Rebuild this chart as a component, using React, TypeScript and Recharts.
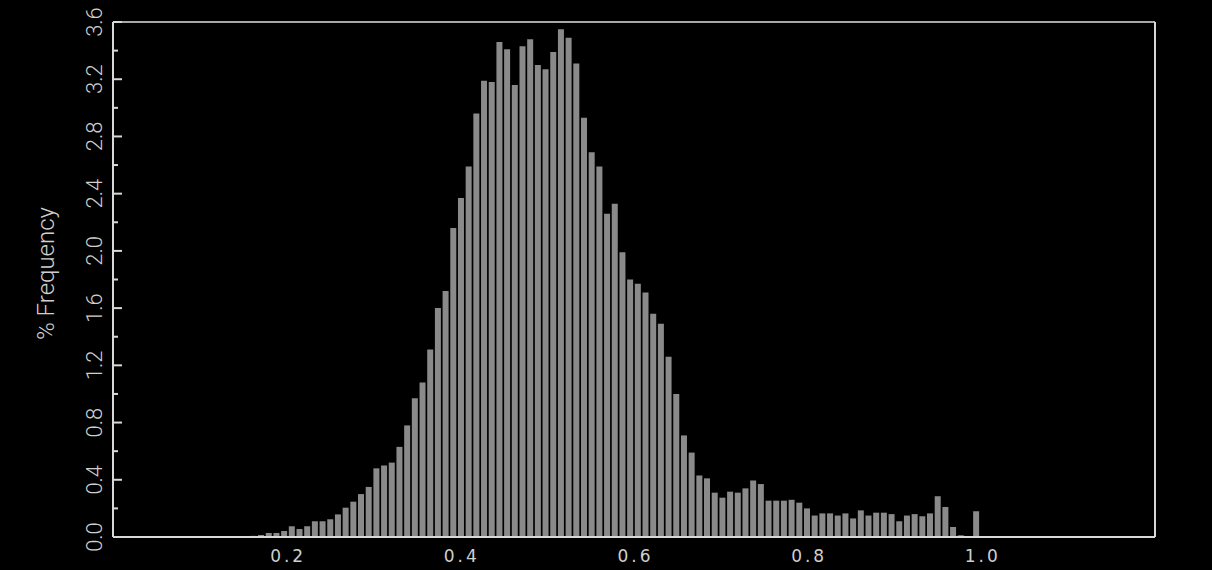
import React from 'react';
import { ComposedChart, Bar, XAxis, YAxis } from 'recharts';

// Histogram bins: centre of first bin and bin width (x units)
const BIN_START = 0.1172;
const BIN_WIDTH = 0.008855;

// % frequency per bin (left to right)
const freqLeftTail = [0.005, 0.005, 0.005, 0.005, 0.006];
const freqRise = [
  0.008, 0.014, 0.028, 0.028, 0.042, 0.075, 0.056, 0.075, 0.11, 0.11, 0.124, 0.158,
  0.205, 0.247, 0.3, 0.35,
];
const freqPeak = [
  0.48, 0.5, 0.52, 0.63, 0.78, 0.97, 1.08, 1.31, 1.6, 1.72, 2.16, 2.37, 2.59, 2.96,
  3.19, 3.18, 3.46, 3.41, 3.16, 3.43, 3.48, 3.3, 3.27, 3.39, 3.55, 3.49,
];
const freqFall = [
  3.31, 2.93, 2.69, 2.59, 2.26, 2.33, 1.99, 1.8, 1.77, 1.71, 1.56, 1.49, 1.26, 1.0,
  0.71, 0.59, 0.43, 0.41, 0.31, 0.275, 0.317, 0.31, 0.34, 0.395, 0.37,
];
const freqRightTail = [
  0.254, 0.254, 0.254, 0.26, 0.24, 0.2, 0.15, 0.165, 0.165, 0.15, 0.165, 0.13, 0.186,
  0.15, 0.17, 0.17, 0.16, 0.11, 0.15, 0.16, 0.145, 0.165, 0.285, 0.21, 0.07, 0.012,
  0.005, 0.18,
];

const xTicks = [0.2, 0.4, 0.6, 0.8, 1.0];
const yTicks = [0, 0.2, 0.4, 0.6, 0.8, 1.0, 1.2, 1.4, 1.6, 1.8, 2.0, 2.2, 2.4, 2.6, 2.8, 3.0, 3.2, 3.4, 3.6];
const yLabelTicks = [0, 0.4, 0.8, 1.2, 1.6, 2.0, 2.4, 2.8, 3.2, 3.6];

const freqAll = [...freqLeftTail, ...freqRise, ...freqPeak, ...freqFall, ...freqRightTail];
const data = freqAll.map((f, i) => ({ x: BIN_START + i * BIN_WIDTH, freq: f }));

const AXIS = '#d8d8d8';
const TEXT = '#cfcfcf';

const isMajor = (v: number) => yLabelTicks.some((t) => Math.abs(t - v) < 1e-6);

const LeftTick = (props: any) => {
  const { x, y, payload } = props;
  const v = payload.value as number;
  const major = isMajor(v);
  const bx = x - 11;
  return (
    <g>
      <line x1={x} x2={x + (major ? 9 : 5)} y1={y} y2={y} stroke={AXIS} strokeWidth={2} />
      {major && (
        <text
          x={bx}
          y={y}
          transform={`rotate(-90 ${bx} ${y})`}
          textAnchor="middle"
          fill={TEXT}
          fontFamily="Roboto, 'DejaVu Sans', sans-serif"
          fontWeight={300}
          fontSize={22}
        >
          {v.toFixed(1)}
        </text>
      )}
    </g>
  );
};

const RightTick = (props: any) => {
  const { x, y, payload } = props;
  const major = isMajor(payload.value as number);
  return <line x1={x} x2={x - (major ? 9 : 5)} y1={y} y2={y} stroke={AXIS} strokeWidth={2} />;
};

const BottomTick = (props: any) => {
  const { x, y, payload } = props;
  return (
    <text
      x={x + 1.5}
      y={y + 25}
      textAnchor="middle"
      fill={TEXT}
      fontFamily="'DejaVu Sans', sans-serif"
      fontSize={17}
      letterSpacing={3}
    >
      {(payload.value as number).toFixed(1)}
    </text>
  );
};

const YTitle = (props: any) => {
  const vb = props.viewBox || {};
  const cx = vb.x + 1;
  const cy = vb.y + vb.height / 2 - 6;
  return (
    <text
      x={cx}
      y={cy}
      transform={`rotate(-90 ${cx} ${cy})`}
      textAnchor="middle"
      fill={TEXT}
      fontFamily="Roboto, 'DejaVu Sans', sans-serif"
      fontWeight={300}
      fontSize={24}
    >
      % Frequency
    </text>
  );
};

export default function App() {
  return (
    <div style={{ position: 'absolute', left: 0, top: 0, width: 1212, height: 570, background: '#000' }}>
      <ComposedChart
        width={1212}
        height={570}
        data={data}
        margin={{ top: 21, right: 56, bottom: 3, left: 53 }}
      >
        <XAxis
          xAxisId="bottom"
          dataKey="x"
          type="number"
          domain={[0, 1.2]}
          ticks={xTicks}
          interval={0}
          height={30}
          tickSize={0}
          tickMargin={0}
          tickLine={false}
          axisLine={{ stroke: AXIS, strokeWidth: 2 }}
          tick={<BottomTick />}
        />
        <XAxis
          xAxisId="top"
          dataKey="x"
          type="number"
          orientation="top"
          domain={[0, 1.2]}
          height={1}
          tick={false}
          tickLine={false}
          axisLine={{ stroke: '#a8a8a8', strokeWidth: 2 }}
        />
        <YAxis
          yAxisId="left"
          type="number"
          domain={[0, 3.6]}
          ticks={yTicks}
          interval={0}
          width={60}
          tickSize={0}
          tickMargin={0}
          tickLine={false}
          axisLine={{ stroke: AXIS, strokeWidth: 2 }}
          tick={<LeftTick />}
          label={{ content: (p: any) => <YTitle {...p} /> }}
        />
        <YAxis
          yAxisId="right"
          type="number"
          orientation="right"
          domain={[0, 3.6]}
          ticks={yTicks}
          interval={0}
          width={1}
          tickSize={0}
          tickMargin={0}
          tickLine={false}
          axisLine={{ stroke: AXIS, strokeWidth: 2 }}
          tick={<RightTick />}
        />
        <Bar
          xAxisId="bottom"
          yAxisId="left"
          dataKey="freq"
          fill="#8a8a8a"
          barSize={6}
          isAnimationActive={false}
        />
      </ComposedChart>
    </div>
  );
}
